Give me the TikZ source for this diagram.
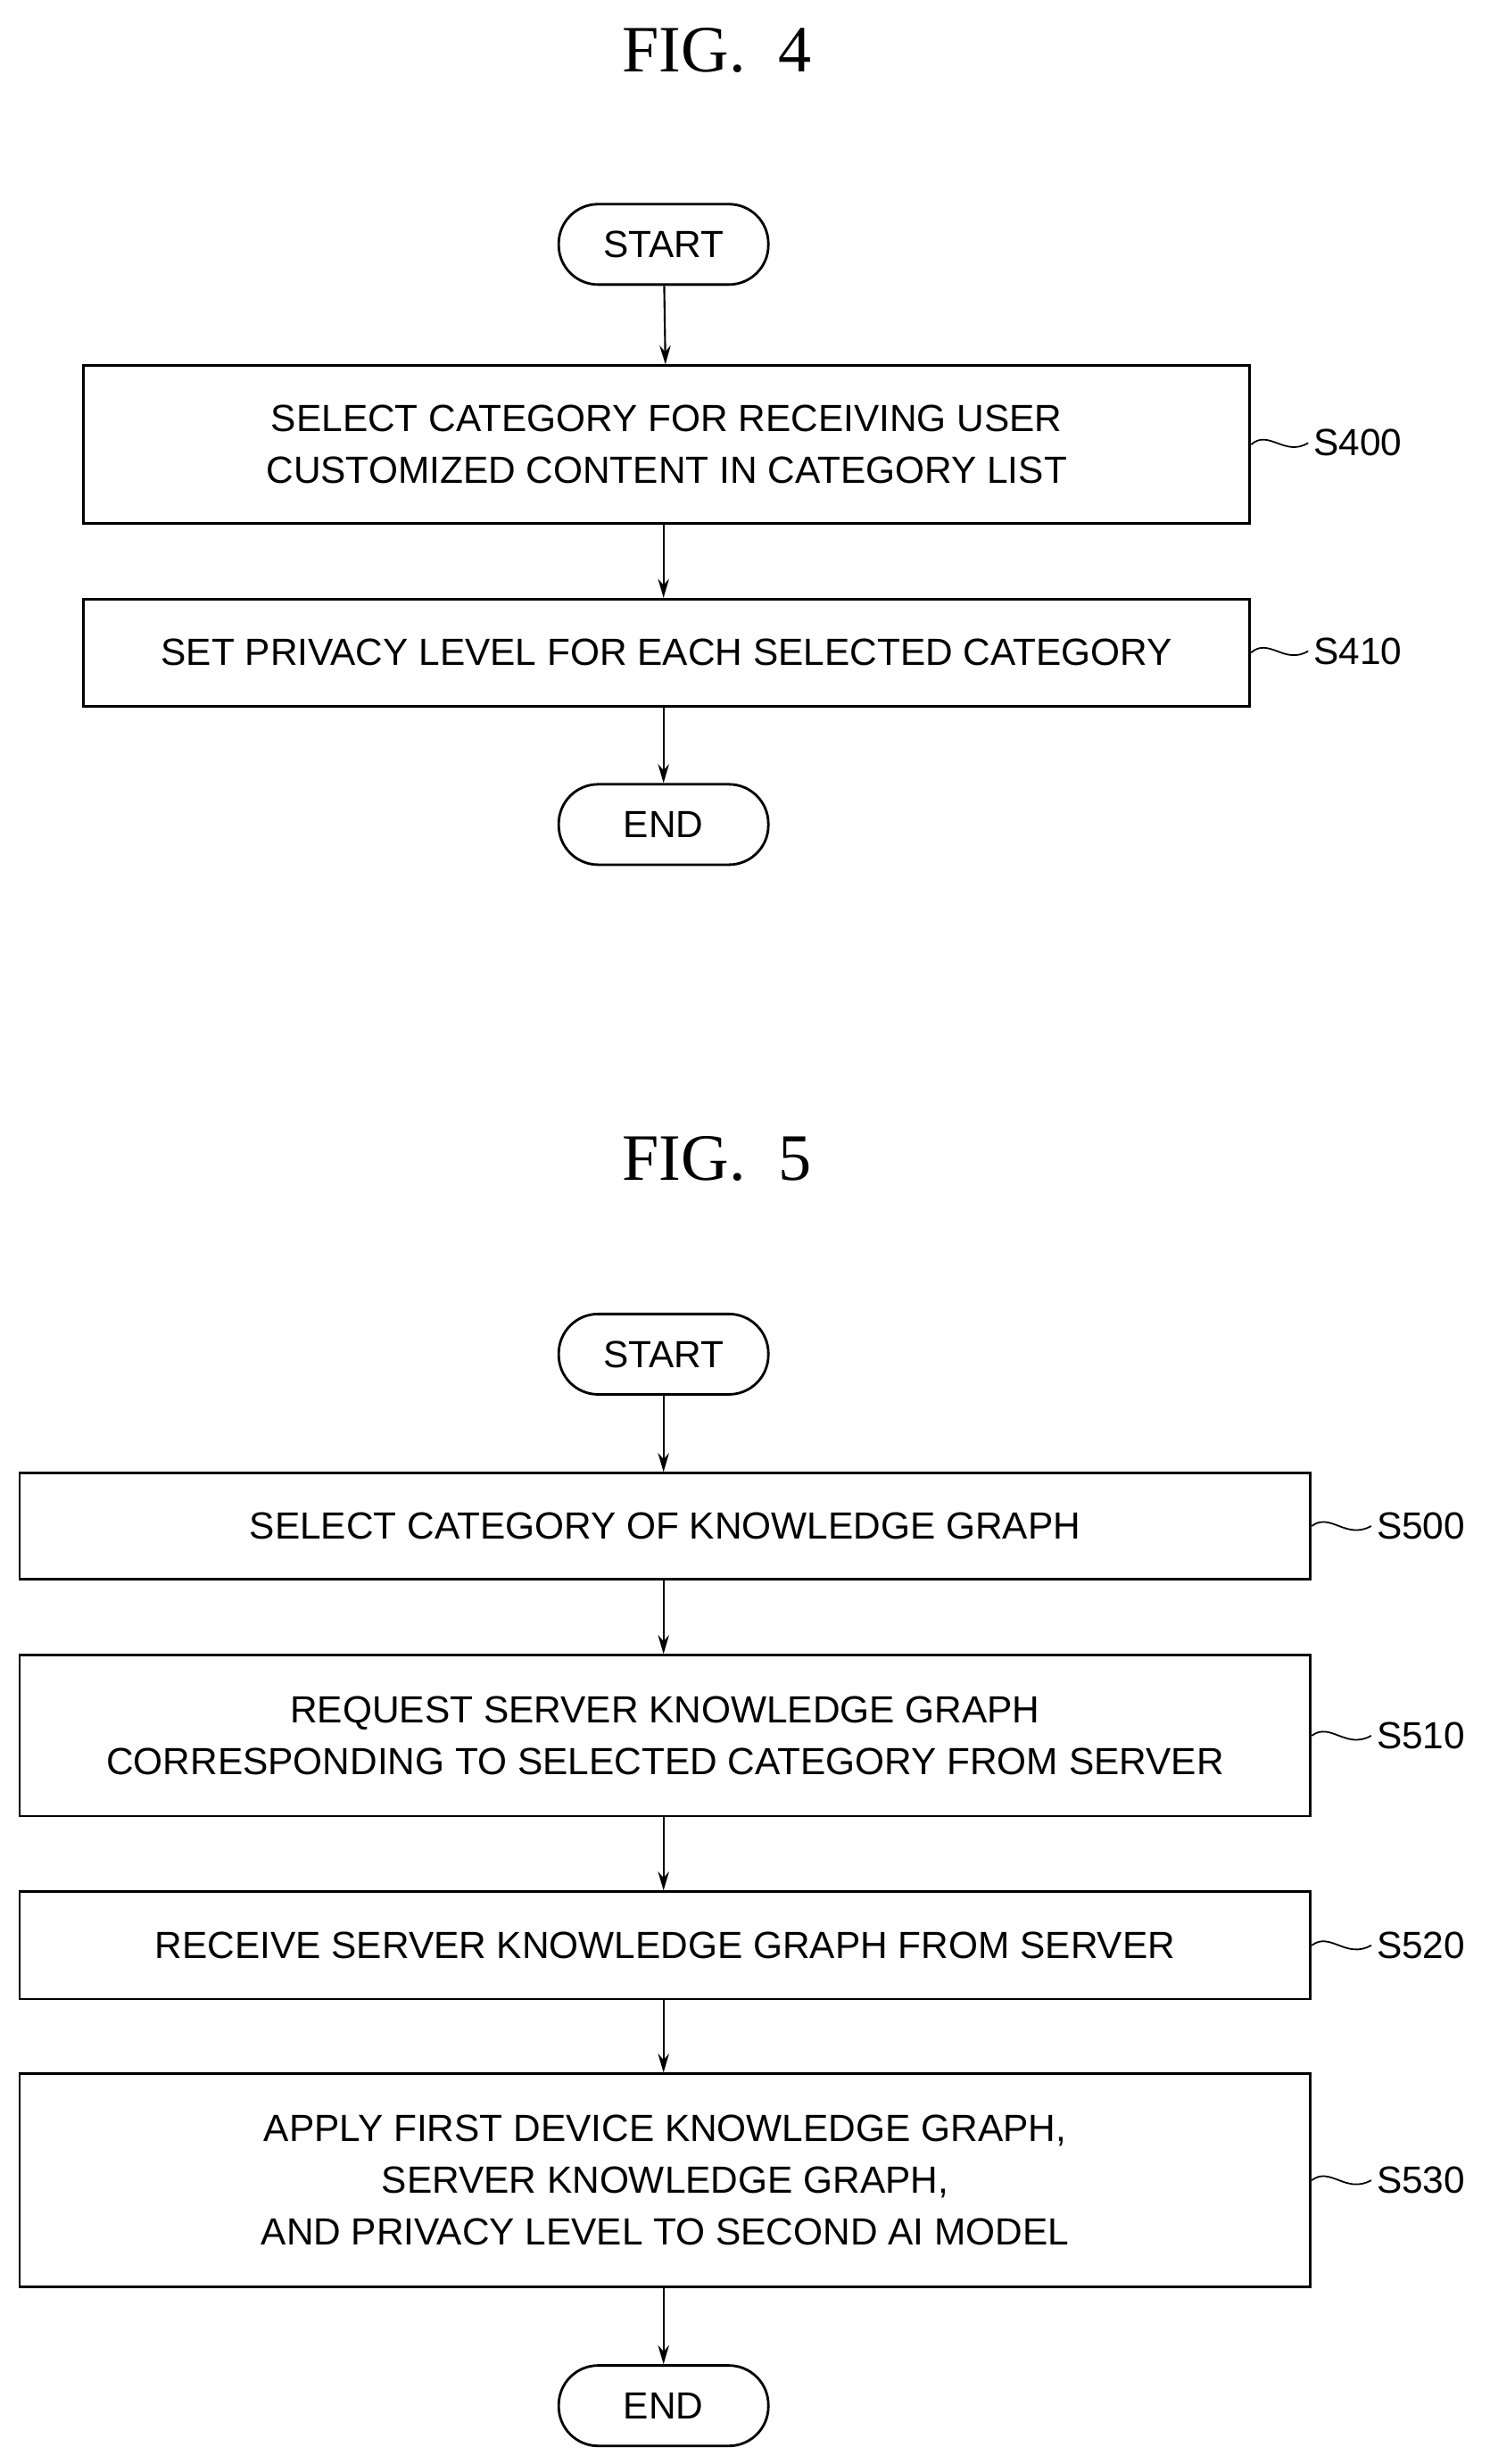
\documentclass[tikz,border=0pt]{standalone}
\usepackage{fontspec}
\setmainfont{Liberation Sans}
\newfontfamily\titlefont{Liberation Serif}
\usetikzlibrary{arrows.meta}
\begin{document}
\begin{tikzpicture}[x=1pt,y=-1pt,
 box/.style={draw,line width=1.6pt,minimum height=#1,align=center,font=\fontsize{24}{33}\selectfont,inner sep=0pt},
 term/.style={draw,line width=1.6pt,rounded corners=25pt,minimum width=133pt,minimum height=51pt,font=\fontsize{24}{28}\selectfont},
 arr/.style={-{Stealth[length=12pt,width=7pt]},line width=1.2pt},
 lab/.style={font=\fontsize{24}{28}\selectfont,anchor=west},
 ttl/.style={font=\titlefont\fontsize{42}{46}\selectfont}]
\useasboundingbox (0,0) rectangle (945,1563);
\node[ttl] (t4) at (455,32) {FIG.\ \ 4};
\node[term] (s4) at (421,155) {START};
\node[box=100pt,minimum width=740pt] (b400) at (423,282) {SELECT CATEGORY FOR RECEIVING USER\\CUSTOMIZED CONTENT IN CATEGORY LIST};
\node[box=68pt,minimum width=740pt] (b410) at (423,414) {SET PRIVACY LEVEL FOR EACH SELECTED CATEGORY};
\node[term] (e4) at (421,523) {END};
\draw[arr] (s4) -- (b400);
\draw[arr] (b400.south -| s4) -- (b410.north -| s4);
\draw[arr] (b410.south -| s4) -- (e4);
\node[lab] (l400) at (830,281) {S400};
\node[lab] (l410) at (830,413) {S410};
\draw[line width=1pt] (b400.east) .. controls (805,272) and (815,290) .. (l400.west);
\draw[line width=1pt] (b410.east) .. controls (805,404) and (815,422) .. (l410.west);

\node[ttl] (t5) at (455,735) {FIG.\ \ 5};
\node[term] (s5) at (421,859) {START};
\node[box=67pt,minimum width=819pt] (b500) at (422,968) {SELECT CATEGORY OF KNOWLEDGE GRAPH};
\node[box=102pt,minimum width=819pt] (b510) at (422,1101) {REQUEST SERVER KNOWLEDGE GRAPH\\CORRESPONDING TO SELECTED CATEGORY FROM SERVER};
\node[box=68pt,minimum width=819pt] (b520) at (422,1234) {RECEIVE SERVER KNOWLEDGE GRAPH FROM SERVER};
\node[box=135pt,minimum width=819pt] (b530) at (422,1383) {APPLY FIRST DEVICE KNOWLEDGE GRAPH,\\SERVER KNOWLEDGE GRAPH,\\AND PRIVACY LEVEL TO SECOND AI MODEL};
\node[term] (e5) at (421,1526) {END};
\draw[arr] (s5) -- (b500.north -| s5);
\draw[arr] (b500.south -| s5) -- (b510.north -| s5);
\draw[arr] (b510.south -| s5) -- (b520.north -| s5);
\draw[arr] (b520.south -| s5) -- (b530.north -| s5);
\draw[arr] (b530.south -| s5) -- (e5);
\foreach \n/\y in {500/968,510/1101,520/1234,530/1383}{
 \node[lab] (l\n) at (870,\y) {S\n};
 \draw[line width=1pt] (b\n.east) .. controls (844,\y-9) and (854,\y+9) .. (l\n.west);
}
\end{tikzpicture}
\end{document}
